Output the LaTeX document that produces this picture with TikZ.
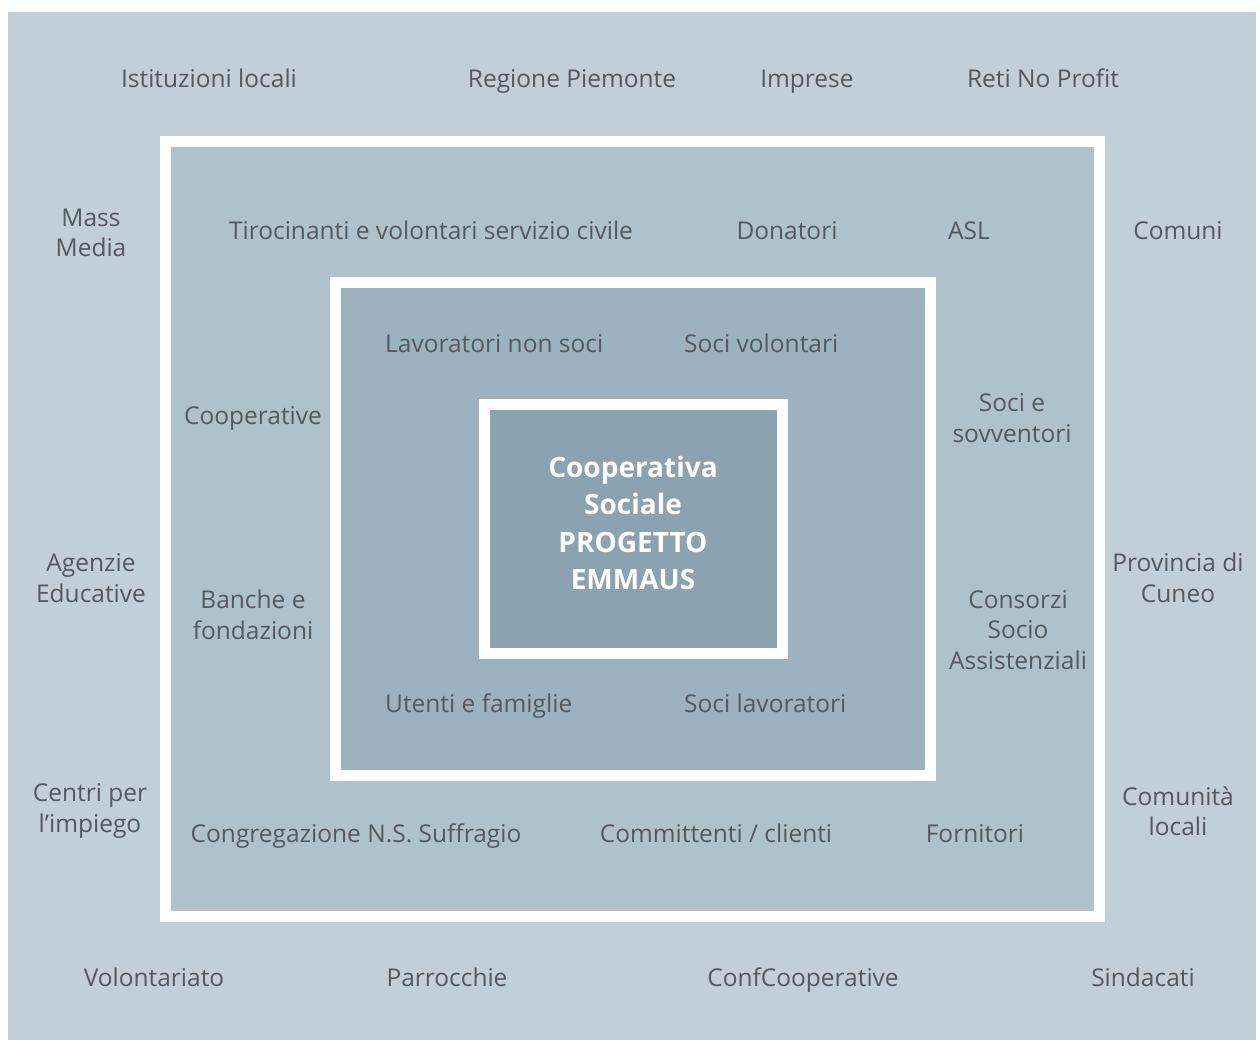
\documentclass[tikz,border=0pt]{standalone}
\usepackage{fontspec}
\setmainfont{Open Sans}
\definecolor{bgA}{HTML}{C1CFD8}
\definecolor{bgB}{HTML}{AFC2CC}
\definecolor{bgC}{HTML}{9CB2BF}
\definecolor{bgD}{HTML}{8BA2B0}
\definecolor{txt}{HTML}{55595D}
\tikzset{
  frame/.style={draw=white, line width=11pt, rectangle, inner sep=0pt, outer sep=0pt},
  lblm/.style={text=txt, font=\fontsize{24.5}{30.5}\selectfont, align=center, inner sep=0pt},
  lbl/.style={lblm, text height=17pt, text depth=5pt},
  core/.style={text=white, font=\bfseries\fontsize{28}{37.5}\selectfont, align=center, inner sep=0pt}
}
\begin{document}
\begin{tikzpicture}[x=1pt,y=-1pt]
\useasboundingbox (0,0) rectangle (1260,1041);
\fill[white] (0,0) rectangle (1260,1041);
\node[fill=bgA, rectangle, inner sep=0pt, minimum width=1248pt, minimum height=1028pt] (bg) at (632,526) {};
\node[frame, fill=bgB, minimum width=934pt, minimum height=775pt] (f1) at (632.5,529) {};
\node[frame, fill=bgC, minimum width=595pt, minimum height=493pt] (f2) at (633,529) {};
\node[frame, fill=bgD, minimum width=298pt, minimum height=249pt] (f3) at (633.5,529) {};
\node[core] (center) at (633,523) {Cooperativa\\Sociale\\PROGETTO\\EMMAUS};
% outer ring
\node[lbl] (ist) at (209,82) {Istituzioni locali};
\node[lbl] (reg) at (572,82) {Regione Piemonte};
\node[lbl] (imp) at (807,82) {Imprese};
\node[lbl] (reti) at (1043,82) {Reti No Profit};
\node[lblm] (mass) at (91,233) {Mass\\Media};
\node[lbl] (com) at (1178,233) {Comuni};
\node[lblm] (agen) at (91,578) {Agenzie\\Educative};
\node[lblm] (prov) at (1178,578) {Provincia di\\Cuneo};
\node[lblm] (centri) at (90,811) {Centri per\\l’impiego};
\node[lblm] (comu) at (1178,811) {Comunità\\locali};
\node[lbl] (vol) at (154,980) {Volontariato};
\node[lbl] (parr) at (447,980) {Parrocchie};
\node[lbl] (conf) at (803,980) {ConfCooperative};
\node[lbl] (sind) at (1143,980) {Sindacati};
% middle ring
\node[lbl] (tiro) at (431,233) {Tirocinanti e volontari servizio civile};
\node[lbl] (don) at (787,233) {Donatori};
\node[lbl] (asl) at (969,233) {ASL};
\node[lbl] (coop) at (253,418) {Cooperative};
\node[lblm] (soci) at (1012,418) {Soci e\\sovventori};
\node[lblm] (banche) at (253,615) {Banche e\\fondazioni};
\node[lblm] (cons) at (1018,630) {Consorzi\\Socio\\Assistenziali};
\node[lbl] (congr) at (356,836) {Congregazione N.S. Suffragio};
\node[lbl] (commi) at (716,836) {Committenti / clienti};
\node[lbl] (forn) at (975,836) {Fornitori};
% inner ring
\node[lbl, anchor=west] (lav) at (385,346) {Lavoratori non soci};
\node[lbl, anchor=west] (sv) at (684,346) {Soci volontari};
\node[lbl, anchor=west] (ute) at (385,706) {Utenti e famiglie};
\node[lbl, anchor=west] (sl) at (684,706) {Soci lavoratori};
\end{tikzpicture}
\end{document}
